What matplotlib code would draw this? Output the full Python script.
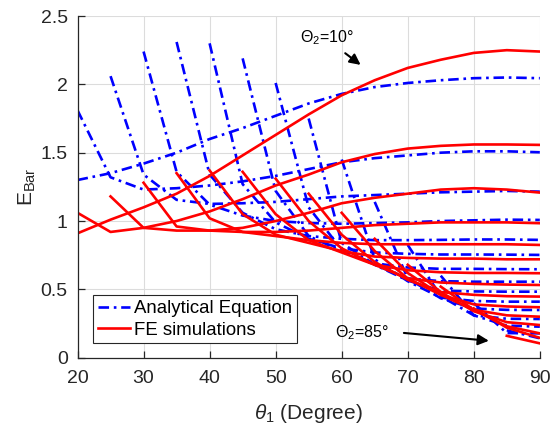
import numpy as np
import matplotlib
matplotlib.use('Agg')
import matplotlib.pyplot as plt
from matplotlib.lines import Line2D

n = np.nan

# theta1 grid (Degree)
theta1 = [20, 25, 30, 35, 40, 45, 50, 55, 60, 65, 70, 75, 80, 85, 90]

# analytical equation, one list per Theta2 (10 deg at the top, 85 deg at the bottom)
e_ana_10 = [1.30, 1.35, 1.42, 1.50, 1.60, 1.68, 1.77, 1.86, 1.93, 1.98, 2.01, 2.03, 2.045, 2.05, 2.045]
e_ana_15 = [1.81, 1.32, 1.23, 1.24, 1.26, 1.29, 1.33, 1.38, 1.43, 1.46, 1.48, 1.50, 1.51, 1.51, 1.503]
e_ana_20 = [n, 2.06, 1.34, 1.155, 1.125, 1.13, 1.14, 1.16, 1.18, 1.19, 1.20, 1.21, 1.215, 1.22, 1.215]
e_ana_25 = [n, n, 2.24, 1.36, 1.12, 1.04, 1.00, 0.985, 0.98, 0.985, 0.99, 1.0, 1.005, 1.01, 1.008]
e_ana_30 = [n, n, n, 2.31, 1.34, 1.06, 0.94, 0.89, 0.87, 0.86, 0.86, 0.862, 0.865, 0.865, 0.862]
e_ana_35 = [n, n, n, n, 2.30, 1.27, 0.99, 0.87, 0.80, 0.77, 0.76, 0.755, 0.755, 0.754, 0.752]
e_ana_40 = [n, n, n, n, n, 2.19, 1.22, 0.89, 0.78, 0.69, 0.66, 0.65, 0.65, 0.648, 0.647]
e_ana_45 = [n, n, n, n, n, n, 2.01, 1.10, 0.79, 0.68, 0.58, 0.56, 0.556, 0.556, 0.556]
e_ana_50 = [n, n, n, n, n, n, n, 1.75, 0.84, 0.68, 0.565, 0.49, 0.485, 0.483, 0.483]
e_ana_55 = [n, n, n, n, n, n, n, n, 1.45, 0.72, 0.56, 0.44, 0.415, 0.41, 0.41]
e_ana_60 = [n, n, n, n, n, n, n, n, n, 1.14, 0.58, 0.435, 0.36, 0.35, 0.349]
e_ana_65 = [n, n, n, n, n, n, n, n, n, n, 0.825, 0.45, 0.31, 0.285, 0.283]
e_ana_70 = [n, n, n, n, n, n, n, n, n, n, n, 0.60, 0.31, 0.235, 0.227]
e_ana_75 = [n, n, n, n, n, n, n, n, n, n, n, n, 0.40, 0.18, 0.178]
e_ana_80 = [n, n, n, n, n, n, n, n, n, n, n, n, n, 0.20, 0.142]

# FE simulations
e_fe_10 = [0.91, 1.01, 1.10, 1.20, 1.33, 1.48, 1.63, 1.78, 1.92, 2.03, 2.12, 2.18, 2.23, 2.25, 2.24]
e_fe_15 = [1.06, 0.92, 0.95, 1.00, 1.07, 1.16, 1.26, 1.34, 1.43, 1.49, 1.53, 1.55, 1.56, 1.56, 1.557]
e_fe_20 = [n, 1.18, 0.95, 0.93, 0.93, 0.95, 1.00, 1.06, 1.13, 1.17, 1.20, 1.23, 1.24, 1.23, 1.208]
e_fe_25 = [n, n, 1.28, 0.96, 0.93, 0.92, 0.92, 0.93, 0.95, 0.97, 0.98, 0.99, 0.99, 0.99, 0.984]
e_fe_30 = [n, n, n, 1.35, 1.02, 0.92, 0.89, 0.86, 0.84, 0.83, 0.83, 0.83, 0.83, 0.83, 0.825]
e_fe_35 = [n, n, n, n, 1.37, 1.05, 0.90, 0.84, 0.78, 0.74, 0.73, 0.725, 0.725, 0.72, 0.72]
e_fe_40 = [n, n, n, n, n, 1.36, 1.05, 0.86, 0.77, 0.68, 0.64, 0.625, 0.62, 0.62, 0.618]
e_fe_45 = [n, n, n, n, n, n, 1.31, 1.00, 0.80, 0.68, 0.58, 0.55, 0.54, 0.535, 0.532]
e_fe_50 = [n, n, n, n, n, n, n, 1.20, 0.90, 0.70, 0.57, 0.48, 0.46, 0.45, 0.447]
e_fe_55 = [n, n, n, n, n, n, n, n, 1.06, 0.78, 0.58, 0.46, 0.39, 0.375, 0.369]
e_fe_60 = [n, n, n, n, n, n, n, n, n, 0.87, 0.62, 0.46, 0.35, 0.31, 0.30]
e_fe_65 = [n, n, n, n, n, n, n, n, n, n, 0.68, 0.48, 0.34, 0.26, 0.239]
e_fe_70 = [n, n, n, n, n, n, n, n, n, n, n, 0.52, 0.35, 0.23, 0.178]
e_fe_75 = [n, n, n, n, n, n, n, n, n, n, n, n, 0.36, 0.22, 0.145]
e_fe_80 = [n, n, n, n, n, n, n, n, n, n, n, n, n, 0.16, 0.105]

analytical = [e_ana_10, e_ana_15, e_ana_20, e_ana_25, e_ana_30, e_ana_35, e_ana_40, e_ana_45,
              e_ana_50, e_ana_55, e_ana_60, e_ana_65, e_ana_70, e_ana_75, e_ana_80]
fe = [e_fe_10, e_fe_15, e_fe_20, e_fe_25, e_fe_30, e_fe_35, e_fe_40, e_fe_45,
      e_fe_50, e_fe_55, e_fe_60, e_fe_65, e_fe_70, e_fe_75, e_fe_80]

plt.rcParams['font.family'] = ['Liberation Sans', 'DejaVu Sans']
plt.rcParams['mathtext.fontset'] = 'custom'
plt.rcParams['mathtext.rm'] = 'Liberation Sans'
plt.rcParams['mathtext.it'] = 'Liberation Sans:italic'

fig = plt.figure(figsize=(5.51, 4.29), dpi=100)
ax = fig.add_axes([0.1407, 0.1662, 0.839, 0.7965])

dashdot = (0, (4.0, 1.8, 1.0, 1.8))
x = np.array(theta1)
for e in analytical:
    ax.plot(x, e, color='#0000ff', lw=1.9, ls=dashdot)
for e in fe:
    ax.plot(x, e, color='#ff0000', lw=1.9, ls='-')

ax.set_xlim(20, 90)
ax.set_ylim(0, 2.5)
ax.set_xticks(range(20, 91, 10))
ax.set_yticks([0, 0.5, 1, 1.5, 2, 2.5])
ax.set_yticklabels(['0', '0.5', '1', '1.5', '2', '2.5'])
ax.grid(True, color='#dcdcdc', lw=0.8)
ax.set_axisbelow(True)
for s in ['top', 'right']:
    ax.spines[s].set_visible(False)
for s in ['left', 'bottom']:
    ax.spines[s].set_color('#262626')
    ax.spines[s].set_linewidth(0.9)
ax.tick_params(direction='in', length=5, width=0.9, color='#262626',
               labelsize=14, labelcolor='#262626')
ax.tick_params(axis='x', pad=9)
ax.tick_params(axis='y', pad=7)

ax.set_xlabel(r'$\it{\theta}_1$ (Degree)', fontsize=15, color='#262626', labelpad=11)
ax.set_ylabel(r'E$_{\rm Bar}$', fontsize=15, color='#262626', labelpad=2)

handles = [Line2D([], [], color='#0000ff', lw=1.9, ls=dashdot),
           Line2D([], [], color='#ff0000', lw=1.9, ls='-')]
leg = ax.legend(handles, ['Analytical Equation', 'FE simulations'],
                loc='lower left', bbox_to_anchor=(0.034, 0.042), borderaxespad=0,
                fontsize=13.4, handlelength=1.75, handletextpad=0.2,
                fancybox=False, framealpha=1, edgecolor='#262626',
                borderpad=0.25, labelspacing=0.25)
leg.get_frame().set_linewidth(0.8)

ax.annotate('', xy=(63.2, 2.13), xytext=(60.2, 2.24),
            arrowprops=dict(arrowstyle='-|>', color='black', lw=1.5, mutation_scale=16))
ax.text(57.7, 2.34, r'Θ$_2$=10°', fontsize=11.5, ha='center', va='center')
ax.annotate('', xy=(82.7, 0.122), xytext=(69.0, 0.183),
            arrowprops=dict(arrowstyle='-|>', color='black', lw=1.5, mutation_scale=16))
ax.text(63.1, 0.18, r'Θ$_2$=85°', fontsize=11.5, ha='center', va='center')

fig.savefig('out.png', dpi=100)
